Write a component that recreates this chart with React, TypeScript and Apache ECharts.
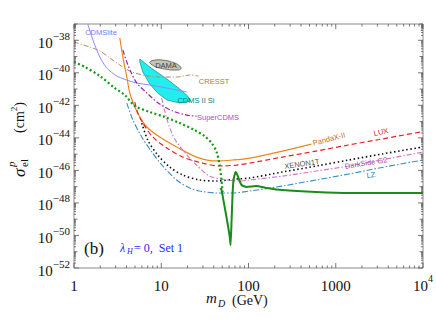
import React, { useEffect, useRef } from "react";
import * as echarts from "echarts";

const SERIF = '"Liberation Serif", "Times New Roman", serif';
const SANS = '"Liberation Sans", Arial, sans-serif';

// Masses in GeV; cross sections given as log10(sigma / cm^2)
const xTickLabels = ["1", "10", "100", "1000", "10^4"];

const cdmsliteMass = [1.44, 1.65, 1.98, 2.38, 3.1, 4.03, 5.25, 7.39, 11.6, 19.6];
const cdmsliteLogSigma = [-37.0, -37.99, -39.03, -39.71, -40.2, -40.45, -40.63, -40.75, -40.94, -41.18];

const cresstMass = [1.0, 1.52, 1.98, 2.58, 3.35, 4.36, 6.15, 9.6, 15.0, 21.2, 26.8];
const cresstLogSigma = [-38.11, -38.42, -38.66, -39.09, -39.52, -39.89, -40.14, -40.26, -40.26, -40.14, -40.2];

const pandaxMass = [3.35, 3.63, 4.03, 4.36, 4.98, 5.68, 6.83, 9.6, 15.0, 25.4, 43.1, 65.7, 103, 245, 525];
const pandaxLogSigma = [-37.86, -39.03, -40.26, -41.24, -42.1, -42.72, -43.33, -43.95, -44.56, -45.18, -45.42, -45.36, -45.24, -44.81, -44.38];

const luxMass = [4.98, 5.38, 6.15, 8.0, 11.6, 17.6, 29.8, 46.6, 72.8, 103, 245, 596, 1390, 3150, 10000];
const luxLogSigma = [-41.8, -42.46, -43.09, -43.95, -44.62, -45.18, -45.55, -45.73, -45.67, -45.55, -45.18, -44.81, -44.44, -44.1, -43.61];

const xenonMass = [5.98, 7.0, 9.1, 12.5, 17.6, 27.5, 43.1, 72.8, 103, 245, 645, 1420, 3390, 10000];
const xenonLogSigma = [-43.09, -44.13, -45.05, -45.79, -46.28, -46.59, -46.65, -46.53, -46.47, -46.1, -45.7, -45.36, -44.99, -44.56];

const lzMass = [4.03, 4.73, 5.98, 7.8, 10.4, 15.0, 21.2, 27.5, 43.1, 63.7, 103, 245, 596, 1420, 3390, 10000];
const lzLogSigma = [-41.86, -42.9, -43.95, -44.87, -45.73, -46.59, -47.08, -47.27, -47.39, -47.39, -47.27, -46.96, -46.59, -46.22, -45.82, -45.36];

const darksideMass = [10.1, 10.9, 11.9, 13.2, 15.0, 19.6, 25.4, 35.8, 56.1, 78.9, 103, 245, 596, 1420, 3790, 10000];
const darksideLogSigma = [-41.55, -42.29, -43.03, -43.7, -44.26, -45.05, -45.67, -46.35, -46.59, -46.65, -46.59, -46.35, -46.04, -45.73, -45.3, -44.87];

const superCdmsMass = [3.63, 4.03, 4.49, 5.25, 6.83, 9.6, 13.6, 19.6, 25.4];
const superCdmsLogSigma = [-38.6, -39.34, -39.95, -40.63, -41.24, -41.92, -42.35, -42.6, -42.66];

const modelDottedMass = [1.0, 1.34, 1.98, 2.94, 3.83, 4.98, 7.39, 11.0, 16.3, 24.1, 31.4, 37.8, 43.1, 46.6, 49.1, 50.4];
const modelDottedLogSigma = [-39.34, -39.65, -40.2, -40.94, -41.37, -42.04, -42.41, -42.72, -43.09, -43.52, -43.89, -44.32, -44.87, -45.67, -46.59, -47.33];

const modelSolidMass = [47.9, 49.1, 54.6, 60.6, 62.3, 63.9, 65.6, 67.4, 71.0, 72.9, 76.9, 83.2, 94.9, 123, 161, 245, 598, 1430, 10000];
const modelSolidLogSigma = [-47.08, -47.21, -48.56, -49.97, -50.59, -49.17, -47.51, -46.59, -46.1, -46.16, -46.47, -46.9, -47.02, -46.96, -47.08, -47.21, -47.33, -47.39, -47.39];

const cdmsSiMass = [5.68, 7.39, 11.6, 16.3, 20.1, 21.7, 16.3, 11.6, 9.1, 7.39, 6.15, 5.68];
const cdmsSiLogSigma = [-39.15, -39.65, -40.38, -41.0, -41.43, -41.74, -41.86, -41.67, -41.24, -40.69, -39.95, -39.34];

const damaMass = [7.39, 8.43, 10.4, 13.2, 16.3, 16.7, 14.3, 11.0, 8.82, 7.6];
const damaLogSigma = [-39.34, -39.22, -39.22, -39.34, -39.58, -39.77, -39.83, -39.77, -39.65, -39.46];

const X_MIN = 0;
const X_MAX = 4;
const Y_MIN = -52;
const Y_MAX = -37;

const toPts = (m: number[], s: number[]) => m.map((v, i) => [Math.log10(v), s[i]]);

function curve(mass: number[], logS: number[], color: string, width: number, type: any, z = 3, smooth: number = 0.3) {
  return {
    type: "line",
    data: toPts(mass, logS),
    symbol: "none",
    smooth,
    clip: true,
    silent: true,
    z,
    lineStyle: { color, width, type, cap: "butt" },
  };
}

function region(mass: number[], logS: number[], fill: string, stroke: string, smooth: number, z = 1) {
  const pts = toPts(mass, logS);
  return {
    type: "custom",
    data: pts,
    silent: true,
    z,
    renderItem: (params: any, api: any) => {
      if (params.dataIndex !== 0) return { type: "group", children: [] };
      return {
        type: "polygon",
        shape: { points: pts.map((p) => api.coord(p)), smooth },
        style: { fill, stroke, lineWidth: 0.8 },
      };
    },
  };
}

const xTickData: number[][] = [];
for (let k = X_MIN; k <= X_MAX; k++) {
  xTickData.push([k, Y_MIN, 2]);
  if (k < X_MAX) for (let j = 2; j <= 9; j++) xTickData.push([k + Math.log10(j), Y_MIN, 0]);
}
const yTickData: number[][] = [];
for (let e = Y_MIN; e <= Y_MAX; e++) {
  yTickData.push([X_MIN, e, e % 2 === 0 ? 2 : 1]);
  if (e < Y_MAX) for (let j = 2; j <= 9; j++) yTickData.push([X_MIN, e + Math.log10(j), 0]);
}

const TICK = "#555";

const xTicks = {
  type: "custom",
  data: xTickData,
  silent: true,
  z: 10,
  renderItem: (_p: any, api: any) => {
    const v = api.value(0);
    const len = api.value(2) === 2 ? 5 : 2.5;
    const b = api.coord([v, Y_MIN]);
    const t = api.coord([v, Y_MAX]);
    return {
      type: "group",
      children: [
        { type: "line", shape: { x1: b[0], y1: b[1], x2: b[0], y2: b[1] - len }, style: { stroke: TICK, lineWidth: 0.8 } },
        { type: "line", shape: { x1: t[0], y1: t[1], x2: t[0], y2: t[1] + len }, style: { stroke: TICK, lineWidth: 0.8 } },
      ],
    };
  },
};

const yTicks = {
  type: "custom",
  data: yTickData,
  silent: true,
  z: 10,
  renderItem: (_p: any, api: any) => {
    const v = api.value(1);
    const lvl = api.value(2);
    const len = lvl === 2 ? 5 : lvl === 1 ? 3.5 : 2;
    const l = api.coord([X_MIN, v]);
    const r = api.coord([X_MAX, v]);
    return {
      type: "group",
      children: [
        { type: "line", shape: { x1: l[0], y1: l[1], x2: l[0] + len, y2: l[1] }, style: { stroke: TICK, lineWidth: 0.8 } },
        { type: "line", shape: { x1: r[0], y1: r[1], x2: r[0] - len, y2: r[1] }, style: { stroke: TICK, lineWidth: 0.8 } },
      ],
    };
  },
};

function txt(text: string, x: number, y: number, size: number, fill: string, opts: any = {}) {
  return {
    type: "text",
    x,
    y,
    rotation: opts.rotation || 0,
    z: 20,
    style: {
      text,
      fill,
      fontSize: size,
      fontFamily: opts.family || SANS,
      fontStyle: opts.italic ? "italic" : "normal",
      align: opts.align || "center",
      verticalAlign: "middle",
    },
  };
}

export default function App() {
  const ref = useRef<HTMLDivElement>(null);
  useEffect(() => {
    document.body.style.margin = "0";
    const chart = echarts.init(ref.current!, null, { renderer: "svg" });
    const richBase = { fontFamily: SERIF, fontSize: 15, color: "#111", lineHeight: 20, verticalAlign: "bottom" };
    const option: any = {
      animation: false,
      grid: { left: 74, right: 12, top: 24, bottom: 55, show: true, borderColor: "#8a8a8a", borderWidth: 1, backgroundColor: "transparent" },
      xAxis: {
        type: "value",
        min: X_MIN,
        max: X_MAX,
        interval: 1,
        axisLine: { show: false },
        axisTick: { show: false },
        splitLine: { show: false },
        axisLabel: {
          margin: 5,
          formatter: (v: number) => {
            const lab = xTickLabels[Math.round(v)] || "";
            if (lab.includes("^")) {
              const [b, s] = lab.split("^");
              return `{b|${b}}{s|${s}}`;
            }
            return `{b|${lab}}`;
          },
          rich: {
            b: richBase,
            s: { fontFamily: SERIF, fontSize: 10, color: "#111", lineHeight: 10, verticalAlign: "top" },
          },
        },
      },
      yAxis: {
        type: "value",
        min: Y_MIN,
        max: Y_MAX,
        interval: 2,
        axisLine: { show: false },
        axisTick: { show: false },
        splitLine: { show: false },
        axisLabel: {
          margin: 4,
          formatter: (v: number) => {
            const k = Math.round(v);
            return k % 2 === 0 && k <= -38 ? `{b|10}{s|\u2212${-k}}` : "";
          },
          rich: {
            b: richBase,
            s: { fontFamily: SERIF, fontSize: 11, color: "#111", lineHeight: 10, verticalAlign: "top" },
          },
        },
      },
      series: [
        region(cdmsSiMass, cdmsSiLogSigma, "#22eeee", "#1a9a9a", 0, 1),
        region(damaMass, damaLogSigma, "#c4c4b4", "#555", 0.5, 1),
        curve(cdmsliteMass, cdmsliteLogSigma, "#8a8aff", 1, "solid"),
        curve(cresstMass, cresstLogSigma, "#b8865a", 1, [5, 2, 1, 2]),
        curve(superCdmsMass, superCdmsLogSigma, "#9c22b8", 1.2, [5, 2, 1.5, 2]),
        curve(pandaxMass, pandaxLogSigma, "#e8881c", 1.2, "solid"),
        curve(luxMass, luxLogSigma, "#e82028", 1.2, [5, 3]),
        curve(xenonMass, xenonLogSigma, "#111", 1.6, [1.5, 2.6]),
        curve(darksideMass, darksideLogSigma, "#d476c8", 1.1, [5, 2, 1.5, 2]),
        curve(lzMass, lzLogSigma, "#3a8cc0", 1.1, [6, 2, 1.5, 2]),
        curve(modelDottedMass, modelDottedLogSigma, "#129a12", 2.2, [2, 2.4], 5),
        curve(modelSolidMass, modelSolidLogSigma, "#1a8c1a", 2, "solid", 6, 0.15),
        xTicks,
        yTicks,
      ],
      graphic: [
        // y-axis title (rotated)
        {
          type: "group",
          x: 19,
          y: 177,
          rotation: Math.PI / 2,
          z: 20,
          children: [
            { type: "text", x: 0, y: 0, style: { text: "\u03c3", fontSize: 17, fontFamily: SERIF, fontStyle: "italic", fill: "#111", align: "left", verticalAlign: "middle" } },
            { type: "text", x: 10, y: 5, style: { text: "el", fontSize: 11, fontFamily: SERIF, fill: "#111", align: "left", verticalAlign: "middle" } },
            { type: "text", x: 10, y: -8, style: { text: "p", fontSize: 11, fontFamily: SERIF, fontStyle: "italic", fill: "#111", align: "left", verticalAlign: "middle" } },
            { type: "text", x: 44, y: 0, style: { text: "(cm", fontSize: 14, fontFamily: SERIF, fill: "#111", align: "left", verticalAlign: "middle" } },
            { type: "text", x: 65.8, y: -5, style: { text: "2", fontSize: 9, fontFamily: SERIF, fill: "#111", align: "left", verticalAlign: "middle" } },
            { type: "text", x: 70.3, y: 0, style: { text: ")", fontSize: 14, fontFamily: SERIF, fill: "#111", align: "left", verticalAlign: "middle" } },
          ],
        },
        // x-axis title
        txt("m", 206, 298, 15, "#111", { family: SERIF, italic: true, align: "left" }),
        txt("D", 218, 303, 10, "#111", { family: SERIF, italic: true, align: "left" }),
        txt("(GeV)", 232, 300, 14, "#111", { family: SERIF, align: "left" }),
        // panel annotations
        txt("(b)", 84, 248, 17, "#111", { family: SERIF, align: "left" }),
        txt("\u03bb", 120, 248, 12, "#2a2aff", { family: SERIF, italic: true, align: "left" }),
        txt("H", 127, 251, 8, "#2a2aff", { family: SERIF, italic: true, align: "left" }),
        txt("= 0,  Set 1", 134, 248, 12, "#2a2aff", { family: SERIF, align: "left" }),
        // experiment labels
        txt("CDMSlite", 101, 32, 7.5, "#7b7bff"),
        txt("CRESST", 214, 81, 7.5, "#b07a44"),
        txt("DAMA", 166, 65, 7.5, "#444"),
        txt("CDMS II Si", 196, 100, 7.5, "#0a8080"),
        txt("SuperCDMS", 218, 117, 7.5, "#b444e0"),
        txt("PandaX-II", 329, 139, 7.5, "#c07020", { rotation: 0.26 }),
        txt("LUX", 381, 132, 7.5, "#e02020", { rotation: 0.2 }),
        txt("XENON1T", 302, 164, 7.5, "#555", { rotation: 0.15 }),
        txt("DarkSide G2", 366, 163, 7.5, "#a8509a", { rotation: 0.16 }),
        txt("LZ", 371, 175, 7.5, "#2a80b0", { rotation: 0.12 }),
      ],
    };
    chart.setOption(option);
    return () => chart.dispose();
  }, []);
  return <div ref={ref} style={{ position: "absolute", left: 0, top: 0, width: 436, height: 323 }} />;
}
